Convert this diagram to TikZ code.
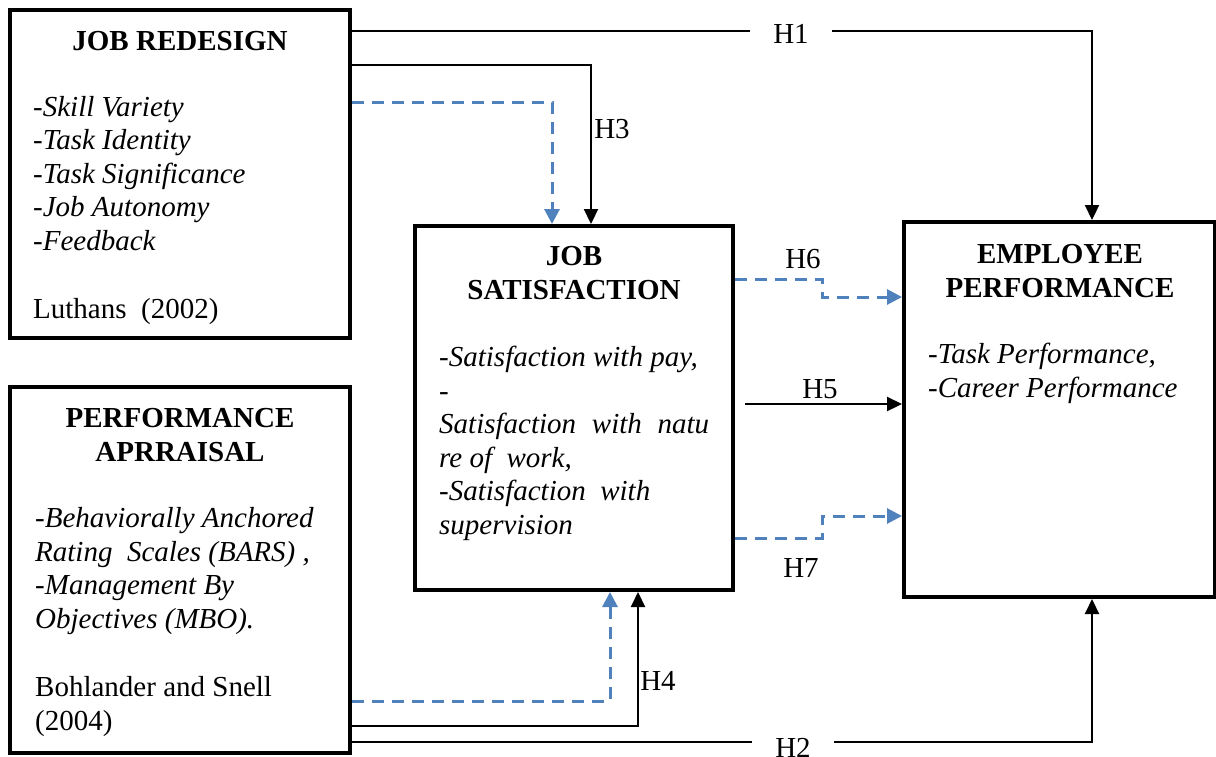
\documentclass[tikz,border=0pt]{standalone}
\usepackage{fontspec}
\setmainfont{Liberation Serif}
\usetikzlibrary{arrows.meta}
\definecolor{dashblue}{RGB}{79,129,189}
\newcommand\diafont{\fontsize{29}{33.5}\selectfont}
\begin{document}
\begin{tikzpicture}[x=1pt,y=-1pt,
 box/.style={draw=black, line width=4pt, inner sep=0pt, rectangle},
 txt/.style={inner sep=0pt, font=\diafont, align=left, anchor=base west},
 itxt/.style={txt, font=\diafont\itshape},
 ttl/.style={inner sep=0pt, font=\diafont\bfseries, align=center, anchor=base},
 conn/.style={draw=black, line width=2.2pt, -{Triangle[length=15pt,width=14pt]}},
 dconn/.style={draw=dashblue, line width=3pt, dash pattern=on 12pt off 8pt, -{Triangle[length=15pt,width=15pt]}},
 hlab/.style={inner sep=0pt, font=\diafont, anchor=base},
]
\useasboundingbox (0,0) rectangle (1216,756);

% boxes
\node[box, minimum width=340pt, minimum height=328pt] (jr) at (180,174) {};
\node[box, minimum width=340pt, minimum height=366pt] (pa) at (180,570) {};
\node[box, minimum width=318pt, minimum height=364pt] (js) at (574,408) {};
\node[box, minimum width=311pt, minimum height=375pt] (ep) at (1059.5,409.5) {};

% texts (anchored at the baseline of their last line)
\node[ttl] (jrt) at (180,50) {JOB REDESIGN};
\node[itxt] (jrl) at (33,250) {-Skill Variety\\-Task Identity\\-Task Significance\\-Job Autonomy\\-Feedback};
\node[txt] (jrc) at (33,318) {Luthans\ \ (2002)};

\node[ttl] (jst) at (574,299) {JOB\\SATISFACTION};
\node[itxt] (jsl) at (439,534) {-Satisfaction with pay,\\-\\\hbox to 270pt{Satisfaction\hfill with\hfill natu}\\re of\ \ work,\\-Satisfaction\ \ with\\supervision};

\node[ttl] (ept) at (1060,297) {EMPLOYEE\\PERFORMANCE};
\node[itxt] (epl) at (928,397) {-Task Performance,\\-Career Performance};

\node[ttl] (pat) at (180,461) {PERFORMANCE\\APRRAISAL};
\node[itxt] (pal) at (35,628) {-Behaviorally Anchored\\Rating\ \ Scales (BARS) ,\\-Management By\\Objectives (MBO).};
\node[txt] (pac) at (35,730) {Bohlander and Snell\\(2004)};

% connectors
\draw[conn] ([yshift=-23pt]jr.north east) -| ([xshift=32.5pt]ep.north);
\draw[conn] ([yshift=-57pt]jr.north east) -| ([xshift=17pt]js.north);
\draw[dconn] ([yshift=-94pt]jr.north east) -| ([xshift=-22pt]js.north);

\draw[dconn] ([yshift=-55pt]js.north east) -- ++(87,0) |- ([yshift=-77pt]ep.north west);
\coordinate (h5s) at (745,404);
\draw[conn] (h5s) -- (ep.west |- h5s);
\draw[dconn] ([yshift=-314pt]js.north east) -- ++(87,0) |- ([yshift=-296pt]ep.north west);

\draw[dconn] ([yshift=-316pt]pa.north east) -| ([xshift=36pt]js.south);
\draw[conn] ([yshift=-341pt]pa.north east) -| ([xshift=64pt]js.south);
\draw[conn] ([yshift=-357pt]pa.north east) -| ([xshift=32.5pt]ep.south);

% labels
\node[hlab, fill=white, inner xsep=23pt, inner ysep=2pt] (h1) at (791,43) {H1};
\node[hlab] (h3) at (612,138) {H3};
\node[hlab] (h6) at (803,268) {H6};
\node[hlab] (h5) at (820,398) {H5};
\node[hlab] (h7) at (801,577) {H7};
\node[hlab] (h4) at (658,690) {H4};
\node[hlab, fill=white, inner xsep=23pt, inner ysep=2pt] (h2) at (793,757) {H2};
\end{tikzpicture}
\end{document}
